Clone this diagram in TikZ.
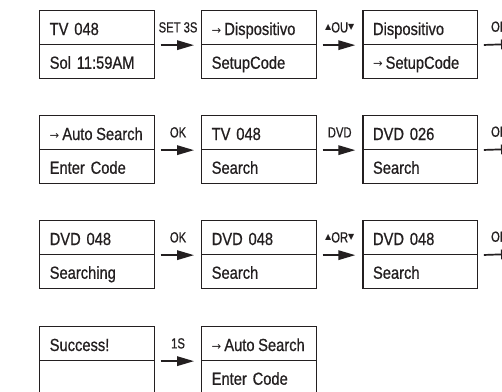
\documentclass[tikz,border=0pt]{standalone}
\usepackage{fontspec}
\setmainfont{Liberation Sans}
\newfontfamily\cellfont[FakeStretch=0.84,FakeBold=0.7]{Liberation Sans}
\newfontfamily\lblfont[FakeStretch=0.77,FakeBold=0.7]{Liberation Sans}
\newfontfamily\symfont{DejaVu Sans}
\usetikzlibrary{arrows.meta}
\definecolor{ink}{HTML}{231F20}
\newcommand{\selarrow}{{\symfont\fontsize{11.5}{11.5}\selectfont\raisebox{0.8pt}{→}}\hspace{3pt}}
\newcommand{\uptri}{{\symfont\fontsize{8}{8}\selectfont\raisebox{3pt}{▲}}}
\newcommand{\dntri}{{\symfont\fontsize{8}{8}\selectfont\raisebox{3pt}{▼}}}
\begin{document}
\begin{tikzpicture}[x=1pt,y=-1pt,
  cell/.style={draw=ink, line width=1.4pt, anchor=north west,
    minimum width=114.7pt, minimum height=33.75pt, text width=94.7pt,
    inner xsep=10pt, inner ysep=0pt, align=left,
    text height=24.3pt, text depth=9.45pt,
    font=\cellfont\fontsize{17.5}{18}\selectfont, text=ink},
  arr/.style={draw=ink, line width=1.7pt, -{Triangle[length=17pt,width=9.5pt]},
    shorten <=5.5pt, shorten >=7pt},
  lbl/.style={font=\lblfont\fontsize{14.6}{14.6}\selectfont, text=ink,
    inner sep=0pt, anchor=base, yshift=12.75pt}]
\useasboundingbox (0,0) rectangle (502,391);
\fill[white] (0,0) rectangle (502,391);
\clip (0,0) rectangle (502,391);
% row 1
\node[cell] (a1t) at (39,10) {TV 048};
\node[cell] (a1b) at (39,43.75) {Sol 11:59AM};
\node[cell] (b1t) at (201,10) {\mbox{\selarrow Dispositivo}};
\node[cell] (b1b) at (201,43.75) {SetupCode};
\node[cell] (c1t) at (362.3,10) {Dispositivo};
\node[cell] (c1b) at (362.3,43.75) {\mbox{\selarrow SetupCode}};
\coordinate (e1) at (520,43.75);
\draw[arr] (a1t.south east) -- node[lbl]{SET 3S} (b1t.south west);
\draw[arr] (b1t.south east) -- node[lbl]{\uptri OU\dntri} (c1t.south west);
\draw[arr, shorten >=2pt] (c1t.south east) -- node[lbl]{OK} (e1);
% row 2
\node[cell] (a2t) at (39,115) {\mbox{\selarrow Auto\hspace{3.6pt}Search}};
\node[cell] (a2b) at (39,148.75) {Enter Code};
\node[cell] (b2t) at (201,115) {TV 048};
\node[cell] (b2b) at (201,148.75) {Search};
\node[cell] (c2t) at (362.3,115) {DVD 026};
\node[cell] (c2b) at (362.3,148.75) {Search};
\coordinate (e2) at (520,148.75);
\draw[arr] (a2t.south east) -- node[lbl]{OK} (b2t.south west);
\draw[arr] (b2t.south east) -- node[lbl]{DVD} (c2t.south west);
\draw[arr, shorten >=2pt] (c2t.south east) -- node[lbl]{OK} (e2);
% row 3
\node[cell] (a3t) at (39,220) {DVD 048};
\node[cell] (a3b) at (39,253.75) {Searching};
\node[cell] (b3t) at (201,220) {DVD 048};
\node[cell] (b3b) at (201,253.75) {Search};
\node[cell] (c3t) at (362.3,220) {DVD 048};
\node[cell] (c3b) at (362.3,253.75) {Search};
\coordinate (e3) at (520,253.75);
\draw[arr] (a3t.south east) -- node[lbl]{OK} (b3t.south west);
\draw[arr] (b3t.south east) -- node[lbl]{\uptri OR\dntri} (c3t.south west);
\draw[arr, shorten >=2pt] (c3t.south east) -- node[lbl]{OK} (e3);
% row 4
\node[cell] (a4t) at (39,326) {Success!};
\node[cell] (a4b) at (39,359.75) {};
\node[cell] (b4t) at (201,326) {\mbox{\selarrow Auto\hspace{3.6pt}Search}};
\node[cell] (b4b) at (201,359.75) {Enter Code};
\draw[arr] (a4t.south east) -- node[lbl]{1S} (b4t.south west);
\end{tikzpicture}
\end{document}
